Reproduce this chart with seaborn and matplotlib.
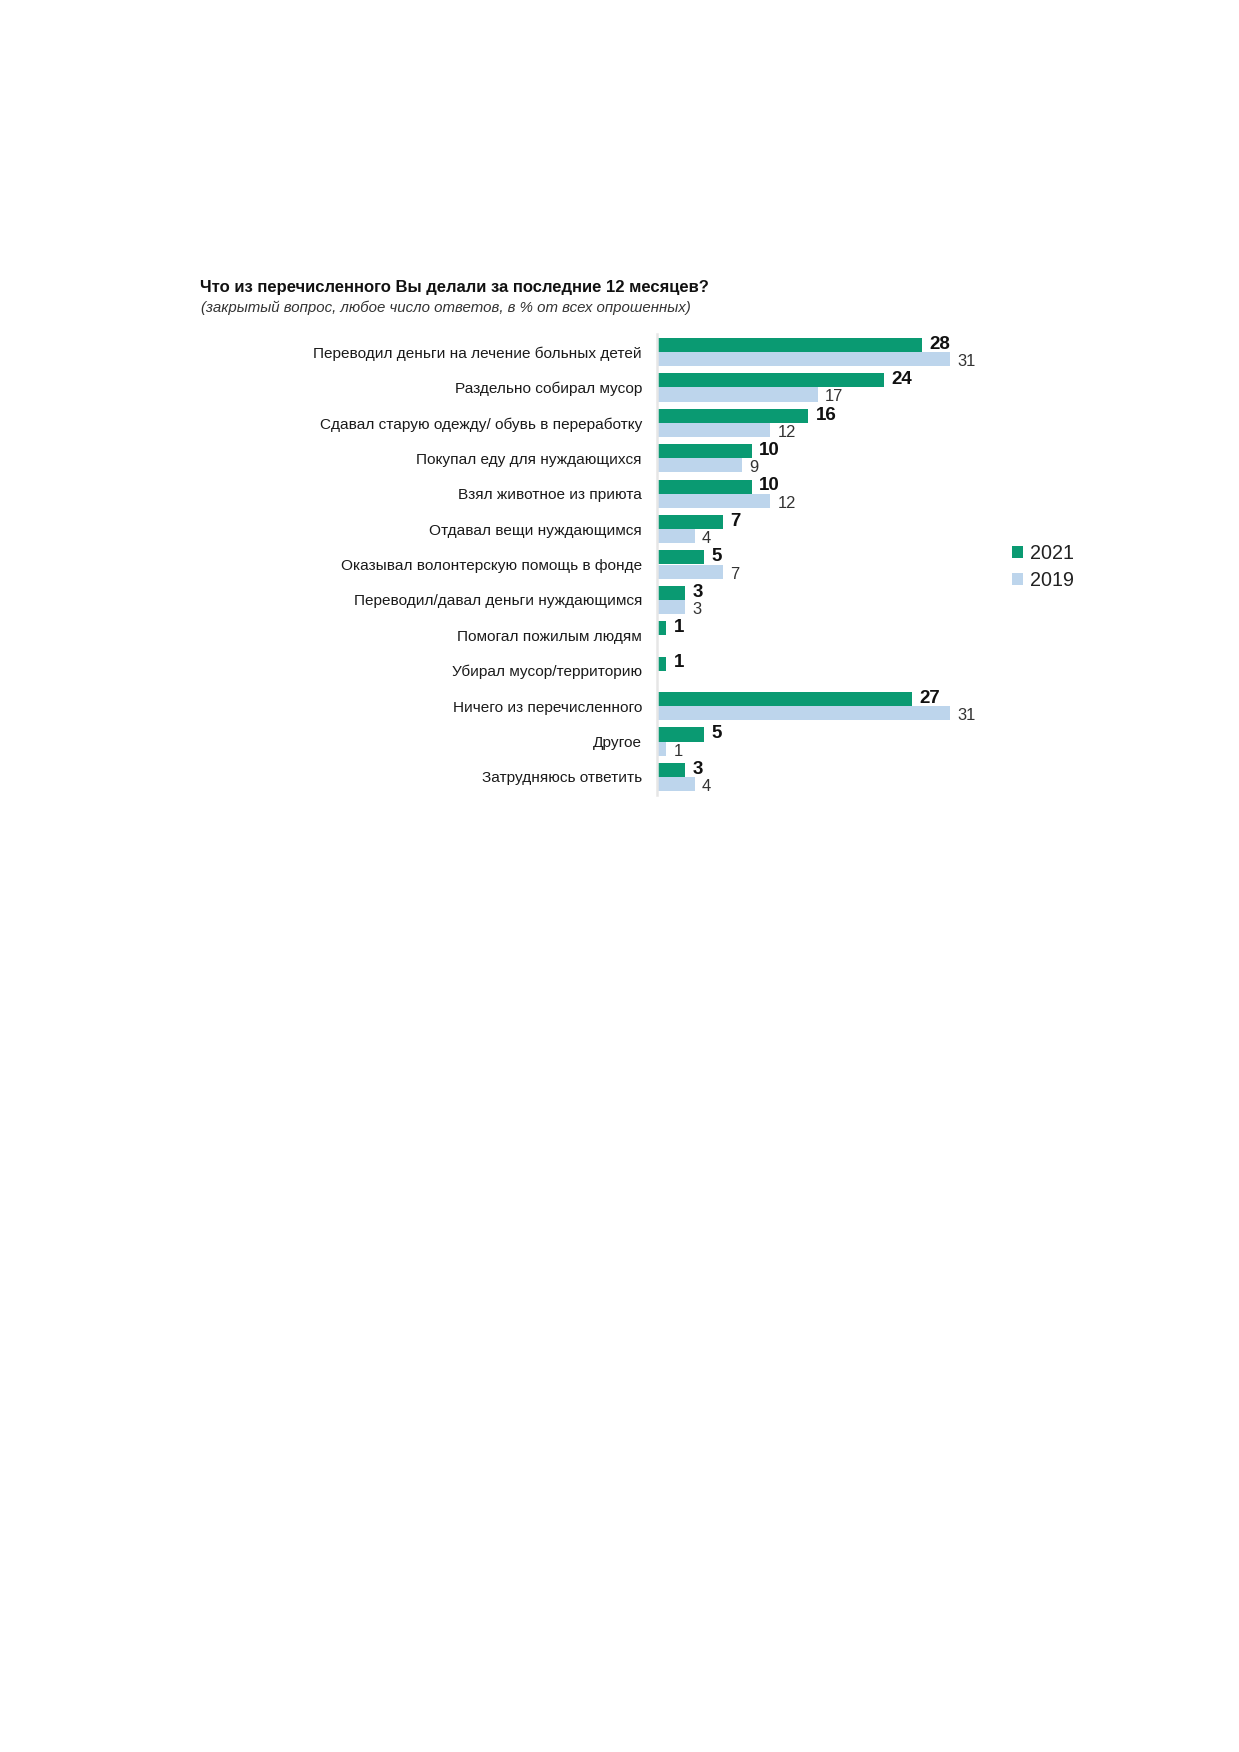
import numpy as np
import pandas as pd
import seaborn as sns
import matplotlib.pyplot as plt

# survey answers, shares in % of all respondents
categories = [
    'Переводил деньги на лечение больных детей',
    'Раздельно собирал мусор',
    'Сдавал старую одежду/ обувь в переработку',
    'Покупал еду для нуждающихся',
    'Взял животное из приюта',
    'Отдавал вещи нуждающимся',
    'Оказывал волонтерскую помощь в фонде',
    'Переводил/давал деньги нуждающимся',
    'Помогал пожилым людям',
    'Убирал мусор/территорию',
    'Ничего из перечисленного',
    'Другое',
    'Затрудняюсь ответить',
]
values_2021 = [28, 24, 16, 10, 10, 7, 5, 3, 1, 1, 27, 5, 3]
values_2019 = [31, 17, 12, 9, 12, 4, 7, 3, np.nan, np.nan, 31, 1, 4]
years = ['2021', '2019']

title = 'Что из перечисленного Вы делали за последние 12 месяцев?'
subtitle = '(закрытый вопрос, любое число ответов, в % от всех опрошенных)'

green = '#0a9a72'
blue = '#bdd5ec'

df = pd.DataFrame({
    'answer': categories * 2,
    'year': ['2021'] * len(categories) + ['2019'] * len(categories),
    'share': values_2021 + values_2019,
})

sns.set_style('white')
plt.rcParams['font.family'] = ['Liberation Sans', 'DejaVu Sans']

W, H = 1239, 1752
fig = plt.figure(figsize=(W / 150, H / 150), dpi=150)
ax = fig.add_axes([657 / W, 1 - 794.7 / H, 378 / W, 460.4 / H])

sns.barplot(data=df, y='answer', x='share', hue='year', hue_order=years,
            palette=[green, blue], orient='h', order=categories, width=0.8,
            errorbar=None, saturation=1, linewidth=0, ax=ax)

ax.set_xlim(0, 40)
ax.set_ylim(12.5, -0.5)
ax.set_xlabel('')
ax.set_ylabel('')
ax.set_xticks([])
ax.tick_params(axis='y', length=0, pad=7.2, labelsize=7.4, labelcolor='#1a1a1a')
for s in ['top', 'right', 'bottom']:
    ax.spines[s].set_visible(False)
ax.spines['left'].set_color('#e6e6e6')
ax.spines['left'].set_linewidth(1.2)

# value labels
for i, v in enumerate(values_2021):
    ax.text(v + 0.8, i - 0.22, f'{v:g}', va='center', ha='left',
            fontsize=9, fontweight='bold', color='#111111')
for i, v in enumerate(values_2019):
    if np.isnan(v):
        continue
    ax.text(v + 0.75, i + 0.27, f'{v:g}', va='center', ha='left',
            fontsize=7.9, color='#333333')

handles, labels = ax.get_legend_handles_labels()
ax.legend(handles, labels, loc='center left',
          bbox_to_anchor=(1012 / W, 1 - 567 / H), bbox_transform=fig.transFigure,
          frameon=False, handlelength=0.55, handleheight=0.55, handletextpad=0.35,
          labelspacing=0.4, fontsize=9.5, borderpad=0, borderaxespad=0,
          labelcolor='#222222')

fig.text(200 / W, 1 - 292 / H, title, ha='left', va='baseline',
         fontsize=8.0, fontweight='bold', color='#111111')
fig.text(201 / W, 1 - 312 / H, subtitle, ha='left', va='baseline',
         fontsize=7.2, style='italic', color='#333333')

fig.savefig('out.png', dpi=150)
